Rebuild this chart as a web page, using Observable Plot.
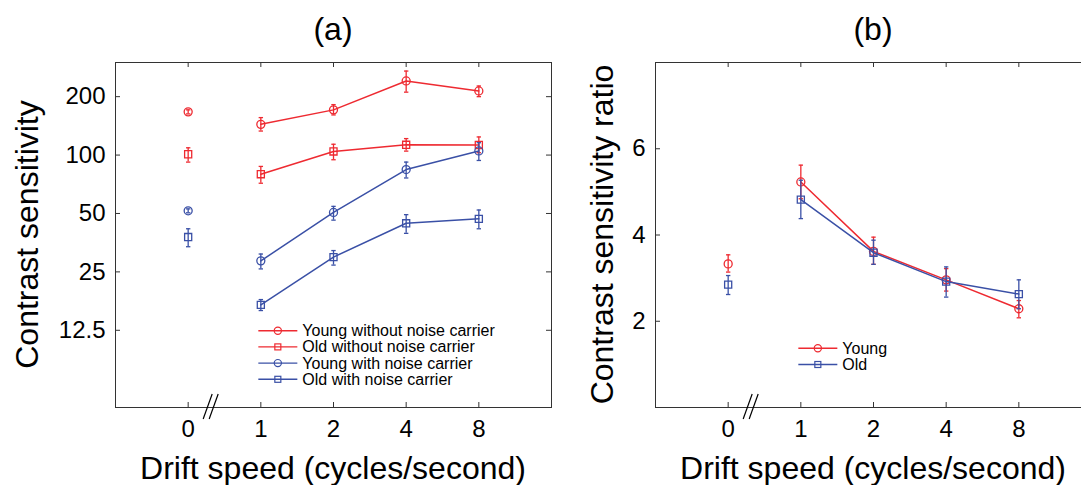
<!DOCTYPE html>
<html><head><meta charset="utf-8">
<script src="https://cdn.jsdelivr.net/npm/d3@7"></script>
<script src="https://cdn.jsdelivr.net/npm/@observablehq/plot@0.6"></script>
<style>
html,body{margin:0;padding:0;background:#fff;overflow:hidden;width:1081px;height:485px;}
#wrap{position:relative;width:1081px;height:485px;overflow:hidden;}
.panel{position:absolute;top:0;}
.panel svg{max-width:none;background:transparent;display:block;}
</style></head>
<body><div id="wrap"><div id="pa" class="panel" style="left:0"></div><div id="pb" class="panel" style="left:540px"></div></div>
<script>
// ---------- data ----------
const speeds = [0, 1, 2, 4, 8];
const speedLabels = ["0", "1", "2", "4", "8"];
const sensTicks = [12.5, 25, 50, 100, 200];
const ratioTicks = [2, 4, 6];

// panel (a) contrast sensitivity
const youngNoCarrier   = [167, 144, 171, 241, 214];
const youngNoCarrierLo = [163, 133, 161, 211, 200];
const youngNoCarrierHi = [171, 156, 182, 271, 227];
const oldNoCarrier     = [101, 79.7, 104.4, 113, 112.7];
const oldNoCarrierLo   = [92, 71.6, 94.6, 104.8, 102.8];
const oldNoCarrierHi   = [109, 87.4, 113.7, 121.6, 124];
const youngCarrier     = [51.6, 28.5, 50.6, 84.2, 105];
const youngCarrierLo   = [50.4, 25.9, 46.2, 76.2, 93.8];
const youngCarrierHi   = [52.8, 30.9, 54.4, 92, 115.8];
const oldCarrier       = [37.8, 16.9, 29.8, 44.5, 46.9];
const oldCarrierLo     = [33.7, 15.8, 27.1, 39.5, 41.7];
const oldCarrierHi     = [41.7, 18.0, 32.2, 49.3, 52.1];

// panel (b) contrast sensitivity ratio
const ratioYoung   = [3.33, 5.23, 3.62, 2.96, 2.29];
const ratioYoungLo = [3.14, 4.84, 3.32, 2.70, 2.08];
const ratioYoungHi = [3.54, 5.62, 3.95, 3.22, 2.48];
const ratioOld     = [2.85, 4.82, 3.59, 2.92, 2.63];
const ratioOldLo   = [2.62, 4.38, 3.32, 2.56, 2.29];
const ratioOldHi   = [3.06, 5.27, 3.88, 3.26, 2.96];

const legendA = ["Young without noise carrier", "Old without noise carrier", "Young with noise carrier", "Old with noise carrier"];
const legendB = ["Young", "Old"];
const titles = ["(a)", "(b)"];
const yLabels = ["Contrast sensitivity", "Contrast sensitivity ratio"];
const xLabel = "Drift speed (cycles/second)";

// ---------- style ----------
const FONT = "'Liberation Sans', Arial, Helvetica, sans-serif";
const RED = "#ee2a31", BLUE = "#3a50a6", AXIS = "#333";
const W = 560, H = 485, ML = 115, MR = 9, MT = 62, MB = 78, TICK = 5;
const FW = W - ML - MR, FH = H - MT - MB;
const idx = speeds.map((_, i) => i);
const cap = {draw(ctx, size) { const w = Math.sqrt(size / Math.PI); ctx.moveTo(-w, 0); ctx.lineTo(w, 0); }};

const seriesA = [
  {name: legendA[0], color: RED, symbol: "circle", v: youngNoCarrier, lo: youngNoCarrierLo, hi: youngNoCarrierHi},
  {name: legendA[1], color: RED, symbol: "square", v: oldNoCarrier, lo: oldNoCarrierLo, hi: oldNoCarrierHi},
  {name: legendA[2], color: BLUE, symbol: "circle", v: youngCarrier, lo: youngCarrierLo, hi: youngCarrierHi},
  {name: legendA[3], color: BLUE, symbol: "square", v: oldCarrier, lo: oldCarrierLo, hi: oldCarrierHi}
];
const seriesB = [
  {name: legendB[0], color: RED, symbol: "circle", v: ratioYoung, lo: ratioYoungLo, hi: ratioYoungHi},
  {name: legendB[1], color: BLUE, symbol: "square", v: ratioOld, lo: ratioOldLo, hi: ratioOldHi}
];

function makePanel({yType, yDomain, yTicks, series, title, ylabel, ylabelX, legendY0}) {
  const marks = [
    Plot.frame({stroke: AXIS, strokeWidth: 1}),
    Plot.ruleY(yTicks, {y: d => d, insetRight: FW - TICK, stroke: AXIS}),
    Plot.ruleY(yTicks, {y: d => d, insetLeft: FW - TICK, stroke: AXIS}),
    Plot.ruleX(idx, {x: d => d, insetTop: FH - TICK, stroke: AXIS}),
    Plot.ruleX(idx, {x: d => d, insetBottom: FH - TICK, stroke: AXIS}),
    Plot.axisY({ticks: yTicks, tickSize: 0, tickPadding: 10, tickFormat: d => String(d), fontSize: 24, label: null, fill: "#000"}),
    Plot.axisX({ticks: idx, tickSize: 0, tickPadding: 12, tickFormat: i => speedLabels[i], fontSize: 24, label: null, fill: "#000"})
  ];
  series.forEach(s => {
    const rows = speeds.map((sp, i) => ({i, v: s.v[i], lo: s.lo[i], hi: s.hi[i]}));
    marks.push(Plot.ruleX(rows, {x: "i", y1: "lo", y2: "hi", stroke: s.color, strokeWidth: 1.3}));
    marks.push(Plot.dot(rows, {x: "i", y: "lo", symbol: cap, r: 2.2, stroke: s.color, strokeWidth: 1.3}));
    marks.push(Plot.dot(rows, {x: "i", y: "hi", symbol: cap, r: 2.2, stroke: s.color, strokeWidth: 1.3}));
    marks.push(Plot.line(rows.filter(d => speeds[d.i] > 0), {x: "i", y: "v", stroke: s.color, strokeWidth: 1.5}));
    marks.push(Plot.dot(rows, {x: "i", y: "v", symbol: s.symbol, r: 4, stroke: s.color, fill: "none", strokeWidth: 1.3}));
  });
  const plot = Plot.plot({
    width: W, height: H, marginLeft: ML, marginRight: MR, marginTop: MT, marginBottom: MB,
    x: {type: "linear", domain: [-1, 5]},
    y: {type: yType, domain: yDomain},
    style: {fontFamily: FONT, background: "transparent", overflow: "visible", color: "#000"},
    marks
  });
  const svg = d3.select(plot);
  const xs = plot.scale("x");
  const x2 = xs.apply(2), x0 = xs.apply(0), x1 = xs.apply(1);
  const bottom = H - MB;
  // title
  svg.append("text").attr("x", x2).attr("y", 40).attr("text-anchor", "middle")
    .attr("font-size", 32).attr("font-family", FONT).attr("fill", "#000").text(title);
  // x label
  svg.append("text").attr("x", x2).attr("y", 479).attr("text-anchor", "middle")
    .attr("font-size", 32).attr("font-family", FONT).attr("fill", "#000").text(xLabel);
  // y label
  svg.append("text").attr("transform", `translate(${ylabelX},${MT + FH / 2}) rotate(-90)`)
    .attr("text-anchor", "middle").attr("font-size", 32).attr("font-family", FONT).attr("fill", "#000").text(ylabel);
  // axis break marks
  const br = svg.append("g").attr("stroke", "#000").attr("stroke-width", 1.2);
  [[15.5, 24.5], [21.5, 30.5]].forEach(([a, b]) => {
    br.append("line").attr("x1", x0 + a).attr("y1", bottom + 12).attr("x2", x0 + b).attr("y2", bottom - 13);
  });
  // legend
  const lg = svg.append("g").attr("font-family", FONT).attr("font-size", 16).attr("text-anchor", "start");
  series.forEach((s, k) => {
    const y = legendY0 + k * 16.2;
    lg.append("line").attr("x1", x1 - 2).attr("x2", x1 + 37).attr("y1", y).attr("y2", y).attr("stroke", s.color).attr("stroke-width", 1.4);
    if (s.symbol === "circle") {
      lg.append("circle").attr("cx", x1 + 17.5).attr("cy", y).attr("r", 3.6).attr("fill", "none").attr("stroke", s.color).attr("stroke-width", 1.2);
    } else {
      lg.append("rect").attr("x", x1 + 14.5).attr("y", y - 3).attr("width", 6).attr("height", 6).attr("fill", "none").attr("stroke", s.color).attr("stroke-width", 1.2);
    }
    lg.append("text").attr("x", x1 + 42).attr("y", y + 5.5).attr("text-anchor", "start").attr("fill", "#000").text(s.name);
  });
  return plot;
}

document.getElementById("pa").appendChild(makePanel({
  yType: "log", yDomain: [5, 300], yTicks: sensTicks, series: seriesA,
  title: titles[0], ylabel: yLabels[0], ylabelX: 38, legendY0: 330.7
}));
document.getElementById("pb").appendChild(makePanel({
  yType: "linear", yDomain: [0, 8], yTicks: ratioTicks, series: seriesB,
  title: titles[1], ylabel: yLabels[1], ylabelX: 73, legendY0: 348.3
}));
</script>
</body></html>
